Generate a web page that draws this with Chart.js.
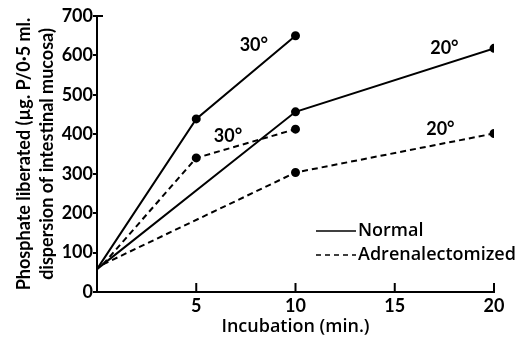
<!DOCTYPE html>
<html>
<head>
<meta charset="utf-8">
<script src="https://cdn.jsdelivr.net/npm/chart.js@4.4.1/dist/chart.umd.min.js"></script>
<style>
  html, body { margin: 0; padding: 0; background: #fff; }
  #wrap { width: 527px; height: 339px; }
</style>
</head>
<body>
<div id="wrap"><canvas id="phosChart" width="527" height="339"></canvas></div>
<script>
// values (x = minutes, y = µg P liberated)
const normal30X = [0, 5, 10];
const normal30Y = [58, 439, 650];
const normal20X = [0, 10, 20];
const normal20Y = [58, 457, 618];
const adrenal30X = [0.3, 5, 10];
const adrenal30Y = [70, 340, 413];
const adrenal20X = [0.3, 10, 20];
const adrenal20Y = [70, 303, 402];

// temperature labels placed next to the curves (data coordinates)
const tempLabels = ['30°', '30°', '20°', '20°'];
const tempLabelX = [7.9, 6.6, 17.5, 17.3];
const tempLabelY = [626, 396, 619, 413];

const xTicks = [5, 10, 15, 20];
const legendNames = ['Normal', 'Adrenalectomized'];

const FONT = 'Lato, "Open Sans", sans-serif';
const WIDE = '"Open Sans", Lato, sans-serif';

function pts(xs, ys) {
    return xs.map((x, i) => ({ x: x, y: ys[i] }));
}

function series(label, xs, ys, dashed) {
    return {
        label: label,
        data: pts(xs, ys),
        borderColor: '#000',
        backgroundColor: '#000',
        borderWidth: 2,
        borderDash: dashed ? [6, 4] : [],
        pointRadius: [0, 3.5, 3.5],
        pointHoverRadius: 0,
        fill: false,
        tension: 0
    };
}

// draws inward ticks on x axis, temperature labels and the legend
const decorations = {
    id: 'decorations',
    afterDraw(chart) {
        const c = chart.ctx;
        const xs = chart.scales.x;
        const ys = chart.scales.y;
        c.save();
        c.strokeStyle = '#000';
        c.lineWidth = 2;
        // x ticks pointing up into the plot
        xTicks.forEach(v => {
            const px = xs.getPixelForValue(v);
            c.beginPath();
            c.moveTo(px, ys.bottom);
            c.lineTo(px, ys.bottom - 9);
            c.stroke();
        });
        // small cap at top of y axis
        c.beginPath();
        c.moveTo(xs.left, ys.top);
        c.lineTo(xs.left + 6, ys.top);
        c.stroke();

        c.fillStyle = '#000';
        c.font = 'bold 18px ' + FONT;
        c.textAlign = 'center';
        c.textBaseline = 'middle';
        tempLabels.forEach((t, i) => {
            c.fillText(t, xs.getPixelForValue(tempLabelX[i]), ys.getPixelForValue(tempLabelY[i]));
        });

        // legend
        const lx = 316, ly = 231, gap = 24;
        c.lineWidth = 1.6;
        c.beginPath();
        c.moveTo(lx, ly);
        c.lineTo(lx + 40, ly);
        c.stroke();
        c.setLineDash([5, 4]);
        c.beginPath();
        c.moveTo(lx, ly + gap);
        c.lineTo(lx + 40, ly + gap);
        c.stroke();
        c.setLineDash([]);
        c.textAlign = 'left';
        c.font = '600 18px ' + WIDE;
        c.fillText(legendNames[0], lx + 42, ly);
        c.fillText(legendNames[1], lx + 42, ly + gap);
        c.restore();
    }
};

const ctx = document.getElementById('phosChart').getContext('2d');
new Chart(ctx, {
    type: 'line',
    data: {
        datasets: [
            series('Normal 30°', normal30X, normal30Y, false),
            series('Normal 20°', normal20X, normal20Y, false),
            series('Adrenalectomized 30°', adrenal30X, adrenal30Y, true),
            series('Adrenalectomized 20°', adrenal20X, adrenal20Y, true)
        ]
    },
    options: {
        responsive: false,
        animation: false,
        layout: { padding: { top: 16, right: 33, left: 0, bottom: 0 } },
        plugins: {
            legend: { display: false },
            tooltip: { enabled: false }
        },
        scales: {
            x: {
                type: 'linear',
                min: 0,
                max: 20,
                afterFit(scale) { scale.height = 47; },
                border: { display: true, color: '#000', width: 2 },
                grid: { display: false },
                ticks: {
                    stepSize: 5,
                    color: '#000',
                    padding: -5,
                    maxRotation: 0,
                    font: { family: FONT, size: 18, weight: 'bold' },
                    callback: v => (v === 0 ? '' : v)
                },
                title: {
                    display: true,
                    text: 'Incubation (min.)',
                    color: '#000',
                    padding: { top: 0, bottom: 1 },
                    font: { family: WIDE, size: 18, weight: '600' }
                }
            },
            y: {
                min: 0,
                max: 700,
                afterFit(scale) { scale.width = 97; },
                border: { display: true, color: '#000', width: 2 },
                grid: { drawOnChartArea: false, color: '#000', lineWidth: 2, tickLength: 4 },
                ticks: {
                    stepSize: 100,
                    color: '#000',
                    padding: 0,
                    font: { family: FONT, size: 18, weight: 'bold' }
                },
                title: {
                    display: true,
                    text: ['Phosphate liberated (\u00b5g. P/0\u00b75 ml.', 'dispersion of intestinal mucosa)'],
                    color: '#000',
                    padding: { top: 13, bottom: 0 },
                    font: { family: FONT, size: 18, weight: 'bold', lineHeight: 1.25 }
                }
            }
        }
    },
    plugins: [decorations]
});
</script>
</body>
</html>
